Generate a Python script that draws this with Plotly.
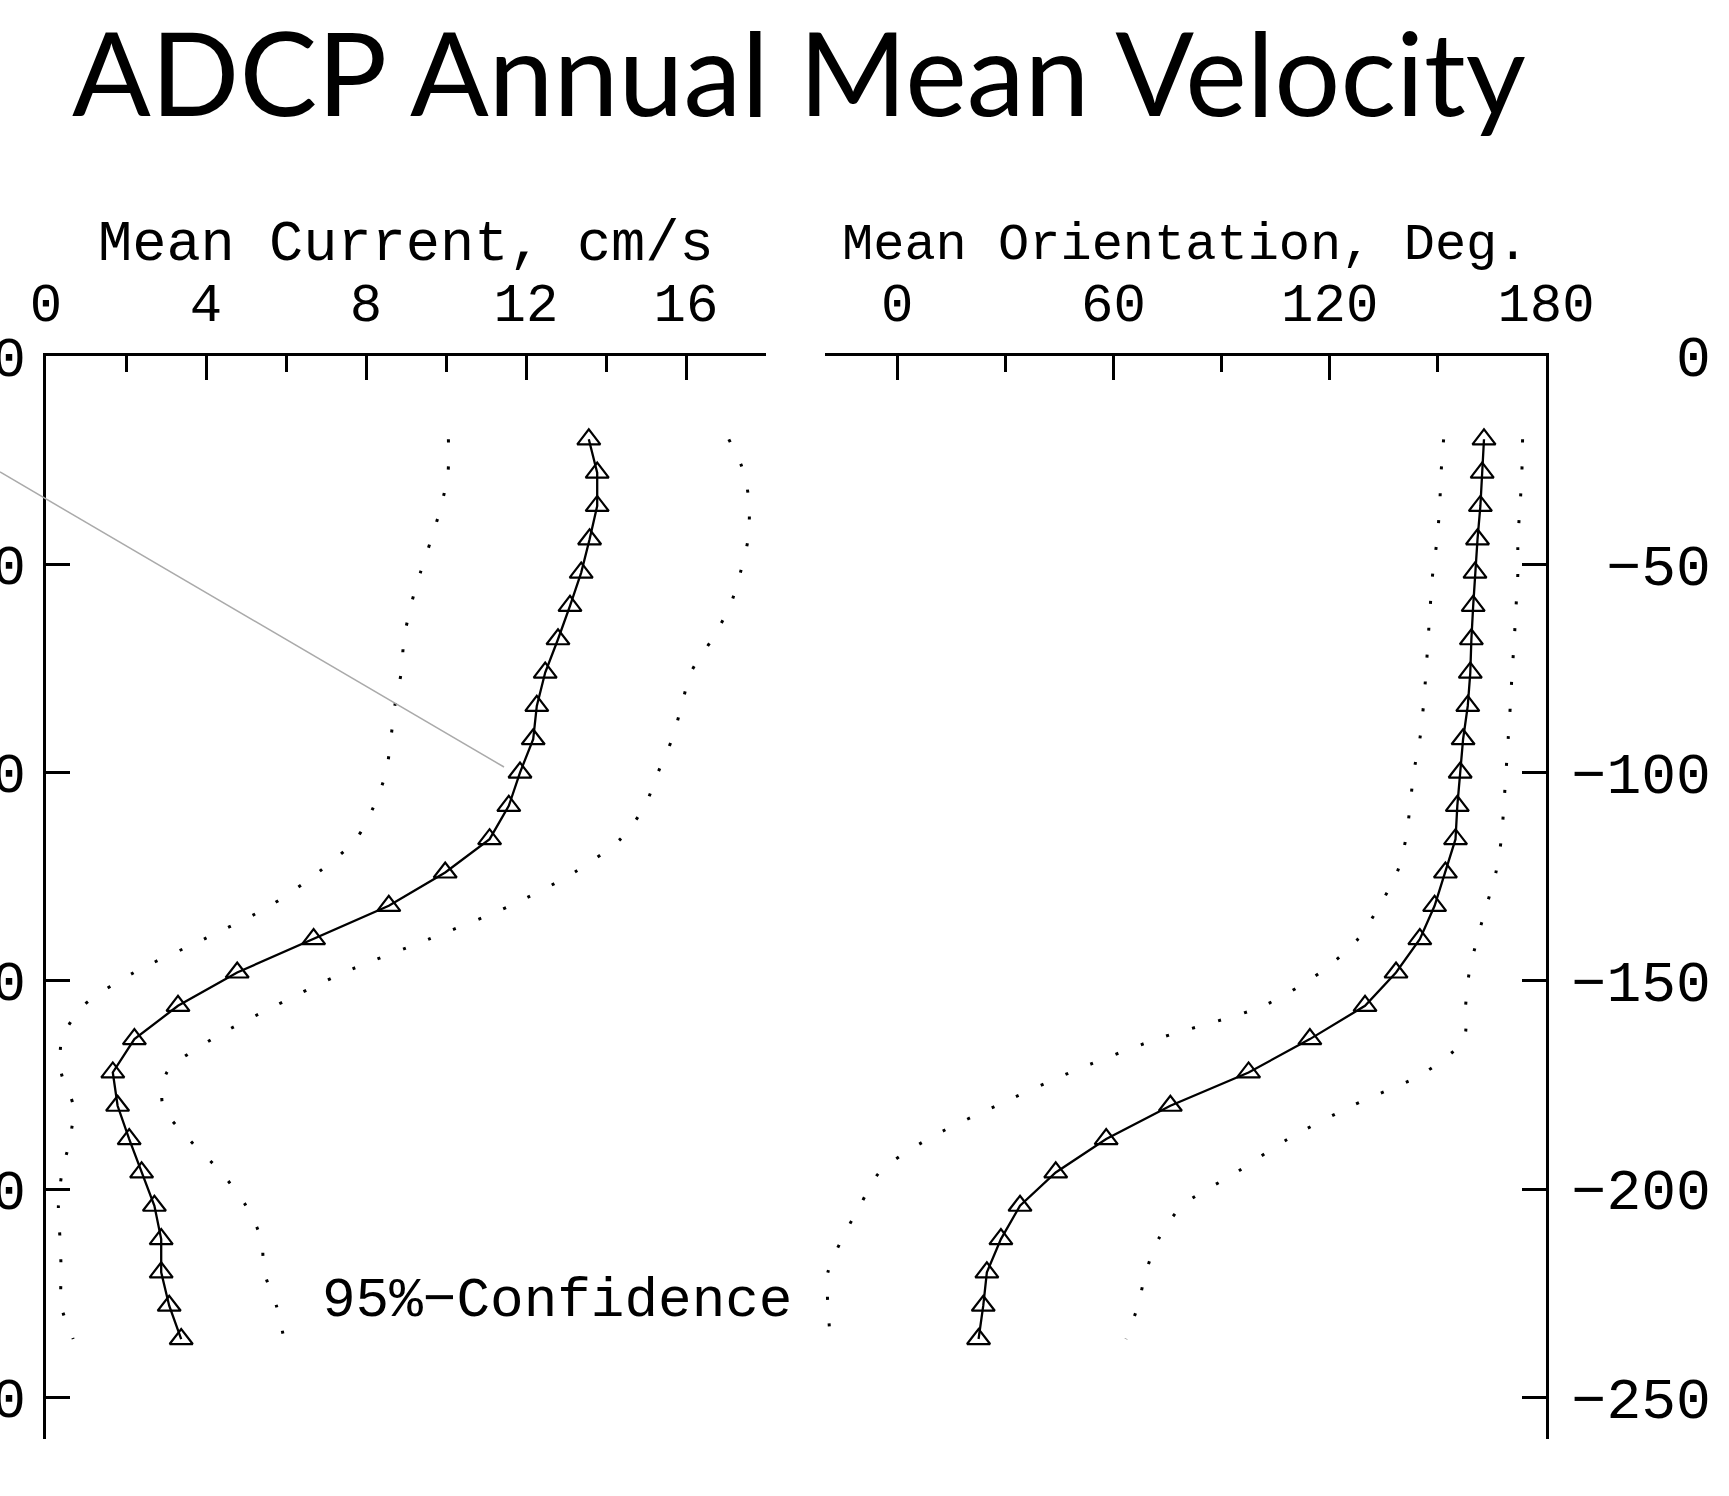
import plotly.graph_objects as go

# ---- data ----
depth = [-20, -28, -36, -44, -52, -60, -68, -76, -84, -92, -100, -108, -116, -124,
         -132, -140, -148, -156, -164, -172, -180, -188, -196, -204, -212, -220, -228, -236]

speed = [13.57, 13.78, 13.78, 13.59, 13.38, 13.10, 12.80, 12.48, 12.27, 12.18, 11.85, 11.57, 11.09, 9.98,
         8.57, 6.69, 4.78, 3.30, 2.21, 1.67, 1.79, 2.08, 2.39, 2.71, 2.88, 2.88, 3.08, 3.38]
speed_lo = [10.06, 10.05, 9.88, 9.63, 9.36, 9.12, 8.95, 8.88, 8.72, 8.62, 8.50, 8.20, 7.75, 6.80,
            5.60, 3.95, 2.20, 0.93, 0.40, 0.38, 0.68, 0.60, 0.40, 0.31, 0.35, 0.38, 0.38, 0.68]
speed_hi = [17.07, 17.45, 17.58, 17.55, 17.36, 17.10, 16.65, 16.12, 15.89, 15.65, 15.30, 14.97, 14.36, 13.20,
            11.60, 9.57, 7.45, 5.73, 4.15, 3.02, 2.92, 3.57, 4.38, 5.00, 5.38, 5.46, 5.76, 5.95]

direction = [162.8, 162.3, 161.8, 161.0, 160.3, 159.8, 159.3, 159.0, 158.3, 157.0, 156.2, 155.4, 154.9, 152.1,
             149.1, 145.0, 138.4, 129.8, 114.5, 97.5, 75.8, 58.0, 44.0, 34.1, 28.8, 24.9, 23.9, 22.6]
dir_lo = [151.6, 150.9, 150.5, 149.8, 148.6, 147.9, 147.3, 146.7, 146.0, 145.0, 143.3, 142.3, 141.1, 138.7,
          133.8, 127.8, 117.4, 101.6, 72.0, 48.0, 27.5, 8.5, -4.9, -10.3, -15.3, -19.2, -19.2, -18.5]
dir_hi = [173.5, 173.3, 172.8, 172.2, 172.2, 171.7, 171.2, 170.6, 170.1, 169.5, 168.9, 168.3, 167.6, 166.1,
          163.5, 160.9, 158.7, 157.7, 157.2, 146.4, 126.2, 108.4, 94.1, 79.1, 72.5, 69.0, 66.8, 63.5]

depth_ticks = [0, -50, -100, -150, -200, -250]
depth_labels_left = ["0", "\u221250", "\u2212100", "\u2212150", "\u2212200", "\u2212250"]
depth_labels_right = ["\u00a0\u00a0\u00a00", "\u00a0\u221250", "\u2212100", "\u2212150", "\u2212200", "\u2212250"]

title_text = "ADCP Annual Mean Velocity"
xtitle_left = "Mean Current, cm/s"
xtitle_right = "Mean Orientation, Deg."
ci_text = "95%\u2212Confidence"

# ---- styling ----
W, H = 1729, 1496
MONO = "Liberation Mono"
BLACK = "black"
DOT = "3px,24px"


def px_x(p):
    return p / W


def px_y(p):
    return 1 - p / H


fig = go.Figure()

marker = dict(symbol="triangle-up-open", size=20, color=BLACK, line=dict(color=BLACK, width=2.2))

for xa, ya, lo, mid, hi in [("x", "y", speed_lo, speed, speed_hi),
                            ("x2", "y2", dir_lo, direction, dir_hi)]:
    for b in (lo, hi):
        fig.add_trace(go.Scatter(x=b, y=depth, xaxis=xa, yaxis=ya, mode="lines",
                                 line=dict(color=BLACK, width=3, dash=DOT, shape="spline", smoothing=0.8),
                                 hoverinfo="skip"))
    fig.add_trace(go.Scatter(x=mid, y=depth, xaxis=xa, yaxis=ya, mode="lines+markers",
                             line=dict(color=BLACK, width=2.3), marker=marker))

ydom = [px_y(1439), px_y(356)]
tickfont = dict(family=MONO, size=54, color=BLACK)

common_x = dict(side="top", showline=True, linecolor=BLACK, linewidth=3, ticks="inside",
                ticklen=24, tickwidth=2.5, tickcolor=BLACK, showgrid=False, zeroline=False,
                tickfont=tickfont, automargin=False, ticklabelstandoff=10)
common_y = dict(range=[-260, 0], domain=ydom, showline=True, linecolor=BLACK, linewidth=3,
                ticks="inside", ticklen=24, tickwidth=2.5, tickcolor=BLACK, showgrid=False,
                zeroline=False, automargin=False, tickvals=depth_ticks)

fig.update_layout(
    width=W, height=H, margin=dict(l=0, r=0, t=0, b=0),
    paper_bgcolor="white", plot_bgcolor="white", showlegend=False, template="none",
    font=dict(family=MONO, color=BLACK),
    xaxis=dict(domain=[px_x(46), px_x(766)], range=[0, 18], anchor="y", tick0=0, dtick=4,
               minor=dict(ticks="inside", ticklen=16, tickwidth=2.5, tickcolor=BLACK, dtick=2, tick0=0, showgrid=False),
               **common_x),
    xaxis2=dict(domain=[px_x(825), px_x(1546)], range=[-20, 180], anchor="y2", tick0=0, dtick=60,
                minor=dict(ticks="inside", ticklen=16, tickwidth=2.5, tickcolor=BLACK, dtick=30, tick0=0, showgrid=False),
                **common_x),
    yaxis=dict(anchor="x", side="left", ticktext=depth_labels_left, ticklabelstandoff=6,
               tickfont=dict(family=MONO, size=56, color=BLACK), **common_y),
    yaxis2=dict(anchor="x2", side="right", ticktext=depth_labels_right, ticklabelstandoff=11,
                tickfont=dict(family=MONO, size=58, color=BLACK), **common_y),
)

fig.add_annotation(text=title_text, xref="paper", yref="paper", x=px_x(70), y=px_y(71),
                   xanchor="left", yanchor="middle", showarrow=False,
                   font=dict(family="Lato", size=116.5, color=BLACK))
fig.add_annotation(text=xtitle_left, xref="paper", yref="paper", x=px_x(406), y=px_y(245),
                   xanchor="center", yanchor="middle", showarrow=False,
                   font=dict(family=MONO, size=57, color=BLACK))
fig.add_annotation(text=xtitle_right, xref="paper", yref="paper", x=px_x(1185), y=px_y(245),
                   xanchor="center", yanchor="middle", showarrow=False,
                   font=dict(family=MONO, size=52, color=BLACK))
fig.add_annotation(text=ci_text, xref="paper", yref="paper", x=px_x(557), y=px_y(1301),
                   xanchor="center", yanchor="middle", showarrow=False,
                   font=dict(family=MONO, size=56, color=BLACK))

fig.add_shape(type="line", xref="paper", yref="paper", x0=0, y0=px_y(472), x1=px_x(504), y1=px_y(767),
              line=dict(color="#aaaaaa", width=1.5))

fig.write_html("out.html", config={"displayModeBar": False},
               post_script="document.body.style.margin='0';document.body.style.overflow='hidden';")
